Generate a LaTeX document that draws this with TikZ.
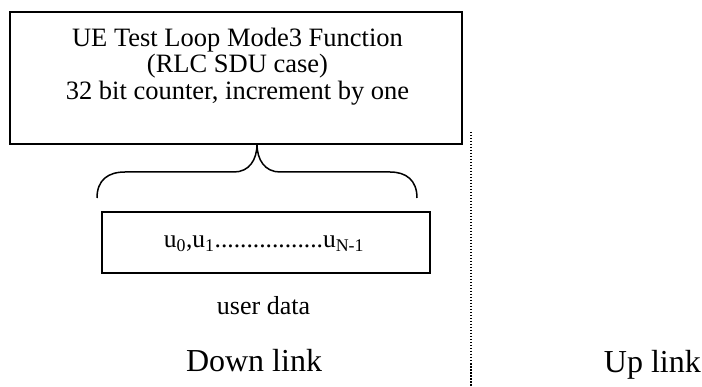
\documentclass[tikz,border=0pt]{standalone}
\usepackage{fontspec}
\setmainfont{Liberation Serif}
\begin{document}
\begin{tikzpicture}[x=1pt,y=-1pt,
  boxline/.style={draw=black, line width=1.5pt},
  txt/.style={inner sep=0pt, align=center, text=black, anchor=base},
  sepline/.style={line width=2pt, dash pattern=on 1.5pt off 1.5pt}]
\useasboundingbox (0,0) rectangle (702,387);
% top function box
\draw[boxline] (10,12) rectangle (462,144);
\coordinate (apex) at (257,144);
\node[txt] (fn1) at (237.5,47) {\fontsize{26.5}{28}\selectfont UE Test Loop Mode3 Function};
\node[txt] (fn2) at (237.5,73) {\fontsize{26.5}{28}\selectfont (RLC SDU case)};
\node[txt] (fn3) at (237.5,100) {\fontsize{26.5}{28}\selectfont 32 bit counter, increment by one};
% brace
\draw[line width=1.5pt] (97,198) .. controls (97,180) and (108,172) .. (125,172) -- (234,172)
  .. controls (249,172) and (257,160) .. (apex)
  .. controls (257,160) and (265,172) .. (280,172) -- (390,172)
  .. controls (406,172) and (417,180) .. (417,198);
% user data box
\draw[boxline] (102,212) rectangle (430,273);
\node[txt] (ud) at (264,248) {\fontsize{25.5}{27}\selectfont u\textsubscript{0},u\textsubscript{1}.................u\textsubscript{N-1}};
\node[txt] (udlabel) at (263.5,315) {\fontsize{26}{28}\selectfont user data};
\node[txt] (down) at (254,372) {\fontsize{32}{34}\selectfont Down link};
\node[txt, anchor=base east] (up) at (701,373) {\fontsize{32}{34}\selectfont Up link};
% separator
\coordinate (sepTop) at (471,132);
\coordinate (sepBot) at (471,387);
\draw[sepline] (sepTop) -- (sepBot);
\end{tikzpicture}
\end{document}
